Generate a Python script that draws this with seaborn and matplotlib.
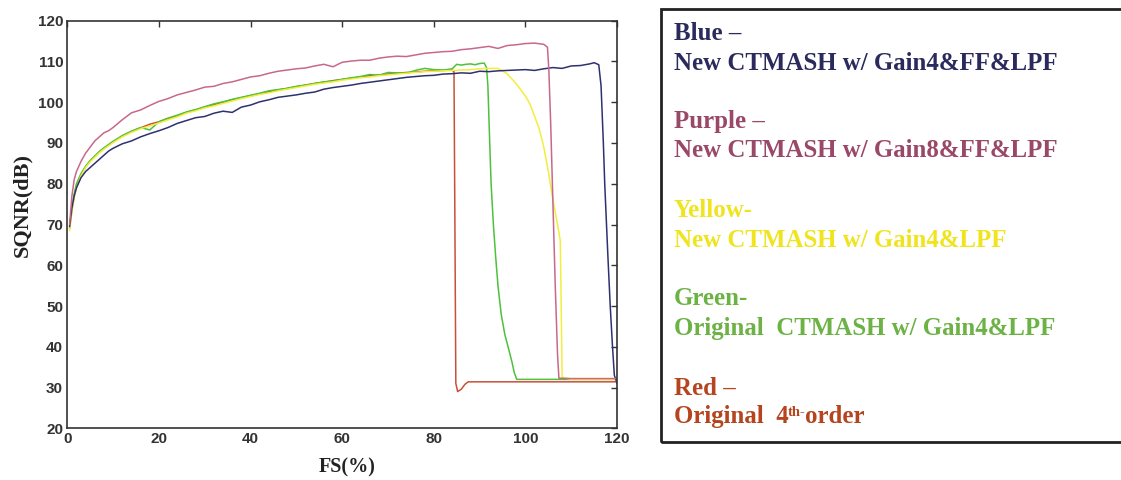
import matplotlib
matplotlib.use("Agg")
import matplotlib.pyplot as plt
from matplotlib.patches import Rectangle
import seaborn as sns
import pandas as pd

# ---------------- data ----------------
FS_RISE = [0.5, 1, 1.5, 2, 3, 4, 5, 6, 7, 8, 9, 10, 12, 14, 16, 18, 20, 22, 24, 26,
           28, 30, 32, 34, 36, 38, 40, 42, 44, 46, 48, 50, 52, 54, 56, 58, 60, 62,
           64, 66, 68, 70, 72, 74, 76, 78, 80, 82, 84]

PURPLE_RISE = [70, 77, 81, 83, 85.5, 87.5, 89, 90.5, 91.5, 92.5, 93, 93.8, 95.7, 97.4,
               98.1, 99.2, 100.2, 100.9, 101.8, 102.4, 103, 103.7, 103.9, 104.6, 105,
               105.6, 106.2, 106.5, 107.1, 107.6, 107.9, 108.2, 108.4, 108.9, 109.3,
               108.7, 109.8, 110.1, 110.3, 110.3, 110.8, 111.1, 111.3, 111.2, 111.6,
               112.0, 112.2, 112.4, 112.5]
PURPLE_TAIL_FS = [86, 88, 90, 92, 94, 96, 98, 100, 102, 104, 104.8, 105.1, 105.5, 106,
                  106.5, 107, 107.3, 110, 115, 120]
PURPLE_TAIL = [112.9, 113.1, 113.4, 113.7, 113.2, 113.9, 114.1, 114.4, 114.5, 114.2,
               113.5, 108, 95, 75, 55, 38, 32.3, 32.2, 32.2, 32.2]

BLUE_RISE = [69.5, 74, 77, 79, 81.5, 83, 84, 85, 86, 87, 88, 88.7, 89.8, 90.5, 91.5,
             92.3, 93, 93.8, 94.8, 95.5, 96.2, 96.5, 97.3, 97.8, 97.5, 98.8, 99.3,
             100.1, 100.6, 101.2, 101.5, 101.8, 102.2, 102.5, 103.2, 103.6, 103.9,
             104.2, 104.6, 104.9, 105.2, 105.5, 105.8, 106.1, 106.3, 106.5, 106.6,
             106.9, 107.0]
BLUE_TAIL_FS = [86, 88, 90, 92, 94, 96, 98, 100, 102, 104, 106, 108, 110, 112, 114,
                115, 116, 116.5, 117, 117.3, 118, 118.5, 119, 119.4, 120]
BLUE_TAIL = [107.2, 107.1, 107.6, 107.5, 107.7, 107.8, 107.9, 108.0, 107.8, 108.2,
             108.5, 108.3, 108.9, 109.0, 109.4, 109.7, 109.2, 104, 90, 80, 62, 50,
             40, 33, 31]

GREEN_RISE = [69.5, 74, 77.5, 80, 82.5, 84.3, 85.7, 86.8, 87.9, 88.8, 89.6, 90.4, 91.8,
              92.9, 93.8, 93.2, 95.2, 96.1, 96.8, 97.6, 98.2, 98.9, 99.6, 100.1, 100.7,
              101.2, 101.7, 102.2, 102.8, 103.1, 103.4, 103.9, 104.2, 104.6, 105.0,
              105.2, 105.6, 106.0, 106.3, 106.8, 106.6, 107.3, 107.2, 107.1, 107.8,
              108.3, 108.0, 107.9, 108.2]
GREEN_TAIL_FS = [85, 86, 87, 88, 89, 90, 91, 91.5, 91.8, 92.2, 92.5, 93, 93.5, 94,
                 94.7, 95.5, 96.2, 97, 97.6, 98.1, 100, 110, 120]
GREEN_TAIL = [109.3, 109.1, 109.3, 109.4, 109.2, 109.5, 109.6, 108.5, 104, 90, 80, 70,
              62, 55, 48, 43, 40, 36.5, 33.5, 32, 32, 32, 32]

YELLOW_RISE = [68.5, 73, 76.5, 79, 82, 84, 85.4, 86.5, 87.6, 88.5, 89.3, 90.1, 91.5,
               92.6, 93.5, 94.2, 94.9, 95.7, 96.4, 97.3, 97.9, 98.6, 99.1, 99.7, 100.3,
               100.9, 101.4, 101.9, 102.3, 102.8, 103.2, 103.6, 104.0, 104.4, 104.7,
               105.0, 105.4, 105.7, 106.0, 106.2, 106.5, 106.7, 106.9, 107.1, 107.3,
               107.5, 107.6, 107.7, 107.8]
YELLOW_TAIL_FS = [86, 88, 90, 92, 94, 96, 98, 100, 101, 102, 103, 104, 105, 106, 107,
                  107.6, 107.8, 108, 110, 120]
YELLOW_TAIL = [107.9, 108.0, 108.2, 108.3, 108.3, 107.0, 104.5, 101.5, 99.5, 96.5,
               93.5, 89, 83, 76, 70, 66, 50, 32.5, 32, 32]

RED_RISE = [69, 73.5, 77, 79.5, 82.3, 84.1, 85.6, 86.7, 87.8, 88.7, 89.5, 90.3, 91.7,
            92.8, 93.7, 94.6, 95.2, 96.0, 96.7, 97.5, 98.1, 98.8, 99.4, 100.0, 100.6,
            101.1, 101.6, 102.1, 102.6, 103.0, 103.4, 103.8, 104.2, 104.6, 104.9,
            105.3, 105.6, 105.9, 106.2, 106.5, 106.7, 106.9, 107.1, 107.3, 107.4,
            107.6, 107.7, 107.8, 107.9]
RED_TAIL_FS = [84.4, 84.6, 84.8, 85.2, 86, 86.8, 87.5, 90, 100, 110, 120]
RED_TAIL = [107.5, 70, 31, 29.0, 29.6, 30.8, 31.4, 31.4, 31.4, 31.4, 31.4]

XTICKS = [0, 20, 40, 60, 80, 100, 120]
YTICKS = [20, 30, 40, 50, 60, 70, 80, 90, 100, 110, 120]

LEGEND_LINES = [
    ("Blue \u2013", "#2a2b5c"),
    ("New CTMASH w/ Gain4&FF&LPF", "#2a2b5c"),
    ("Purple \u2013", "#9a4868"),
    ("New CTMASH w/ Gain8&FF&LPF", "#9a4868"),
    ("Yellow-", "#f0e41e"),
    ("New CTMASH w/ Gain4&LPF", "#f0e41e"),
    ("Green-", "#6cb244"),
    ("Original  CTMASH w/ Gain4&LPF", "#6cb244"),
    ("Red \u2013", "#b4451e"),
]
LEGEND_BASELINES = [40, 70, 128, 157, 217, 247, 305, 335, 395]

# ---------------- figure ----------------
sns.set_theme(style="white")
plt.rcParams["font.family"] = ["Liberation Sans", "DejaVu Sans"]

W, H = 1121, 480
fig = plt.figure(figsize=(W / 100, H / 100), dpi=100)
fig.patch.set_facecolor("white")
ax = fig.add_axes([67.3 / W, 1 - 428.3 / H, (617.1 - 67.3) / W, (428.3 - 20.7) / H])
ax.set_facecolor("white")

series = [
    ("Red", RED_RISE, RED_TAIL_FS, RED_TAIL, "#c8503a"),
    ("Green", GREEN_RISE, GREEN_TAIL_FS, GREEN_TAIL, "#4cc23a"),
    ("Yellow", YELLOW_RISE, YELLOW_TAIL_FS, YELLOW_TAIL, "#f2ee3c"),
    ("Blue", BLUE_RISE, BLUE_TAIL_FS, BLUE_TAIL, "#2e3170"),
    ("Purple", PURPLE_RISE, PURPLE_TAIL_FS, PURPLE_TAIL, "#c8688c"),
]
for name, rise, tfs, tail, col in series:
    df = pd.DataFrame({"FS": FS_RISE + tfs, "SQNR": rise + tail})
    sns.lineplot(data=df, x="FS", y="SQNR", ax=ax, color=col, linewidth=1.1,
                 sort=False, estimator=None)

tick_family = ["Liberation Sans Narrow", "Liberation Sans", "DejaVu Sans"]
ax.set_xlim(0, 120)
ax.set_ylim(20, 120)
ax.set_xticks(XTICKS)
ax.set_yticks(YTICKS)
ax.set_xticklabels([str(v) for v in XTICKS], fontweight="bold", color="#333333",
                   family=tick_family)
ax.set_yticklabels([str(v) for v in YTICKS], fontweight="bold", color="#333333",
                   family=tick_family)
ax.tick_params(direction="in", length=4, width=1, top=True, right=True,
               labelsize=11, pad=3, colors="#333333")
ax.set_xlabel("")
ax.set_ylabel("")
for sp in ax.spines.values():
    sp.set_visible(True)
    sp.set_color("#333333")
    sp.set_linewidth(1.2)

serif = ["Liberation Serif", "DejaVu Serif"]
fig.text(22 / W, 1 - 205 / H, "SQNR(dB)", rotation=90, ha="center", va="center",
         family=serif, fontweight="bold", fontsize=16, color="#222222")
fig.text(347 / W, 1 - 467 / H, "FS(%)", ha="center", va="center",
         family=serif, fontweight="bold", fontsize=14.5, color="#222222")

# legend box
rect = Rectangle((661 / W, 1 - 442 / H), 1.0, (442 - 9) / H, transform=fig.transFigure,
                 fill=False, linewidth=2, edgecolor="#222222", clip_on=False)
fig.add_artist(rect)

LFS = 17.9
tx = 674 / W
for (txt, col), bl in zip(LEGEND_LINES, LEGEND_BASELINES):
    fig.text(tx, 1 - bl / H, txt, ha="left", va="baseline", family=serif,
             fontweight="bold", fontsize=LFS, color=col)

red = "#b4451e"
t1 = fig.text(tx, 1 - 423 / H, "Original  4", ha="left", va="baseline", family=serif,
              fontweight="bold", fontsize=LFS, color=red)
t2 = ax.annotate("th-", xy=(1, 0.95), xycoords=t1, xytext=(-1, 0),
                 textcoords="offset points", ha="left", va="top", family=serif,
                 fontweight="bold", fontsize=10.5, color=red, annotation_clip=False)
ax.annotate("order", xy=(1, 0), xycoords=(t2, t1), xytext=(0, 0),
            textcoords="offset points", ha="left", va="bottom", family=serif,
            fontweight="bold", fontsize=LFS, color=red, annotation_clip=False)

fig.savefig("out.png", dpi=100, facecolor="white")
